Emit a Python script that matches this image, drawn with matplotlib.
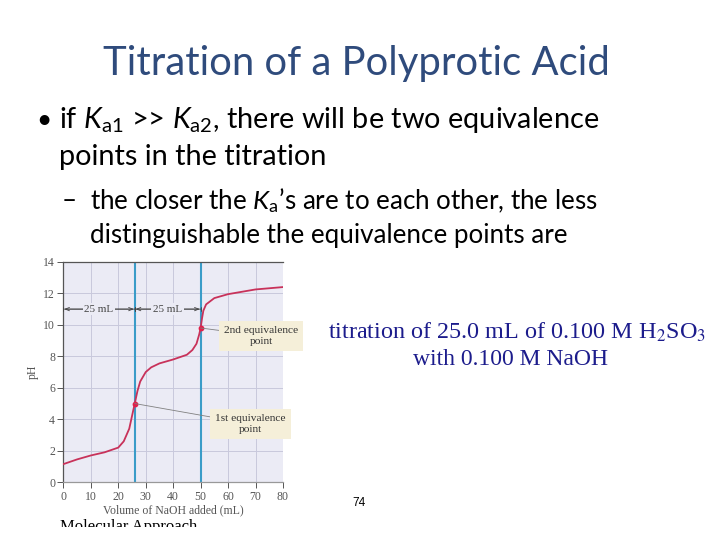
import matplotlib
matplotlib.use("Agg")
import matplotlib.pyplot as plt
from matplotlib.patches import Rectangle

# titration curve
vol = [0, 5, 10, 15, 20, 22, 24, 25, 26, 27, 28, 30, 32, 35, 40, 45, 47, 48.5, 49.5, 50, 50.5, 51, 52, 55, 60, 70, 80]
ph = [1.15, 1.45, 1.7, 1.9, 2.2, 2.6, 3.4, 4.2, 5.0, 5.8, 6.4, 7.0, 7.3, 7.55, 7.8, 8.1, 8.4, 8.8, 9.4, 9.8, 10.4, 10.9, 11.3, 11.7, 11.95, 12.25, 12.4]
eq_vol = [26, 50]
eq_ph = [5.0, 9.8]
eq_labels = ["1st equivalence\npoint", "2nd equivalence\npoint"]
eq_label_pos = [(68.2, 3.7), (72.0, 9.3)]
x_ticks = [0, 10, 20, 30, 40, 50, 60, 70, 80]
y_ticks = [0, 2, 4, 6, 8, 10, 12, 14]

matplotlib.rcParams["mathtext.fontset"] = "custom"
matplotlib.rcParams["mathtext.rm"] = "Lato"
matplotlib.rcParams["mathtext.it"] = "Lato:italic"

fig = plt.figure(figsize=(7.2, 5.4), dpi=100)

# slide text
fig.text(0.495, 0.882, "Titration of a Polyprotic Acid", ha="center", va="center",
         fontsize=28.8, color="#2f4b7c", family="Lato")
fig.text(0.05, 0.777, "\u2022", ha="left", va="center", fontsize=19, family="Lato")
fig.text(0.082, 0.777, "if $K_{\\mathrm{a1}}$ >> $K_{\\mathrm{a2}}$, there will be two equivalence",
         ha="left", va="center", fontsize=20.8, family="Lato")
fig.text(0.082, 0.710, "points in the titration", ha="left", va="center", fontsize=20.8, family="Lato")
fig.text(0.086, 0.628, "\u2013", ha="left", va="center", fontsize=18.7, family="Lato")
fig.text(0.125, 0.628, "the closer the $K_{\\mathrm{a}}$\u2019s are to each other, the less",
         ha="left", va="center", fontsize=18.7, family="Lato")
fig.text(0.125, 0.563, "distinguishable the equivalence points are", ha="left", va="center",
         fontsize=18.7, family="Lato")
fig.text(0.718, 0.385, "titration of 25.0 mL of 0.100 M H$_2$SO$_3$", ha="center", va="center",
         fontsize=17.4, color="#1c1c8c", family="Liberation Serif", math_fontfamily="stix")
fig.text(0.709, 0.335, "with 0.100 M NaOH", ha="center", va="center",
         fontsize=17, color="#1c1c8c", family="Liberation Serif")
fig.text(0.499, 0.068, "74", ha="center", va="center", fontsize=8.5, family="Liberation Sans")
fig.text(0.083, 0.024, "Molecular Approach", ha="left", va="center", fontsize=12,
         family="Liberation Serif")
fig.patches.append(Rectangle((0, 0), 1, 0.024, transform=fig.transFigure,
                             facecolor="white", edgecolor="none", zorder=10))

ax = fig.add_axes([0.088, 0.107, 0.305, 0.408])
ax.set_facecolor("#ebebf5")
ax.plot(vol, ph, color="#c8325a", lw=1.3, zorder=3)
for v in eq_vol:
    ax.axvline(v, color="#3a9cc8", lw=1.5, zorder=2)
ax.scatter(eq_vol, eq_ph, color="#e0204a", s=10, zorder=4)

for (v, p), lab, (tx, ty) in zip(zip(eq_vol, eq_ph), eq_labels, eq_label_pos):
    ax.annotate(lab, xy=(v, p), xytext=(tx, ty), ha="center", va="center",
                fontsize=8.2, color="#333333", family="Liberation Serif",
                bbox=dict(boxstyle="square,pad=0.45", fc="#f5efd9", ec="none"),
                arrowprops=dict(arrowstyle="-", color="#808080", lw=0.6,
                                shrinkA=0, shrinkB=0),
                annotation_clip=False, zorder=5)

# 25 mL spans
spans = [(0, eq_vol[0]), (eq_vol[0], eq_vol[1])]
for a, b in spans:
    ax.annotate("", xy=(a, 11), xytext=(b, 11),
                arrowprops=dict(arrowstyle="|-|,widthA=0.15,widthB=0.15", color="#444444", lw=0.6,
                                shrinkA=0, shrinkB=0), zorder=4)
    ax.annotate("", xy=(a + 0.3, 11), xytext=(b - 0.3, 11),
                arrowprops=dict(arrowstyle="<->,head_length=0.3,head_width=0.12", color="#444444",
                                lw=0.6, shrinkA=0, shrinkB=0), zorder=4)
    ax.text((a + b) / 2, 11, "25 mL", ha="center", va="center", fontsize=8,
            color="#444444", family="Liberation Serif",
            bbox=dict(boxstyle="square,pad=0.15", fc="#ebebf5", ec="none"), zorder=5)

ax.set_xlim(0, 80)
ax.set_ylim(0, 14)
ax.set_xticks(x_ticks)
ax.set_yticks(y_ticks)
ax.grid(True, color="#c8c8dc", lw=0.7)
ax.set_axisbelow(True)
for s in ["left", "top", "bottom"]:
    ax.spines[s].set_color("#555555")
    ax.spines[s].set_linewidth(0.9)
ax.spines["right"].set_visible(False)
ax.spines["bottom"].set_color("#999999")
ax.tick_params(labelsize=8.5, colors="#555555", length=4, width=0.7, pad=2)
for lab in ax.get_xticklabels() + ax.get_yticklabels():
    lab.set_family("Liberation Serif")
ax.set_xlabel("Volume of NaOH added (mL)", fontsize=8.5, color="#555555",
              family="Liberation Serif", labelpad=1)
ax.set_ylabel("pH", fontsize=8.5, color="#555555", family="Liberation Serif", labelpad=3)

fig.savefig("out.png", dpi=100)
